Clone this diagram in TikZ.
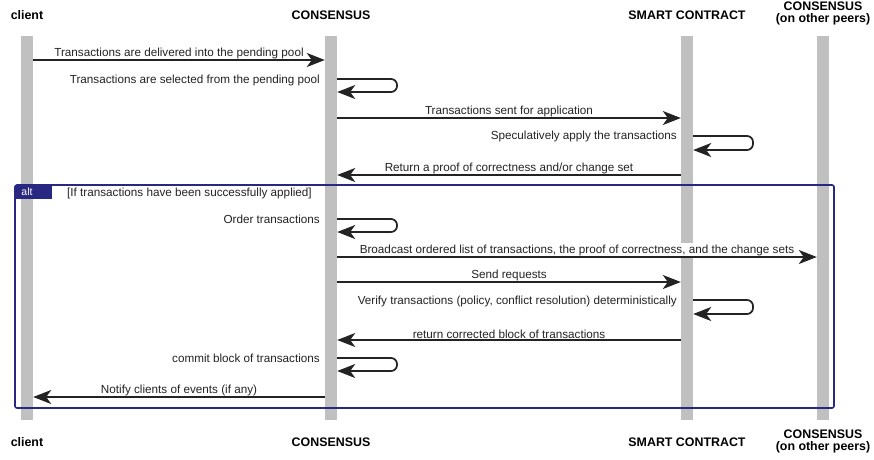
\documentclass[tikz,border=0pt]{standalone}
\usepackage{fontspec}
\setmainfont{Liberation Sans}
\usetikzlibrary{arrows.meta}
\definecolor{lifegray}{RGB}{192,192,192}
\definecolor{framenavy}{RGB}{40,40,130}
\definecolor{inkgray}{RGB}{35,35,35}
\begin{document}
\begin{tikzpicture}[x=1pt,y=-1pt,
  lifeline/.style={fill=lifegray,draw=none,minimum width=12pt,inner sep=0pt,anchor=north},
  header/.style={font=\fontsize{12.4}{13}\selectfont\bfseries,text=black,align=center,inner sep=0pt},
  msg/.style={draw=inkgray,line width=1.7pt,-{Stealth[length=18pt,width=14pt,inset=5pt]}},
  selfmsg/.style={msg,rounded corners=6pt},
  msglabel/.style={font=\fontsize{11.7}{12}\selectfont,text=inkgray,inner sep=0pt,anchor=south},
  selflabel/.style={font=\fontsize{11.7}{12}\selectfont,text=inkgray,inner sep=0pt,anchor=east},
  altframe/.style={draw=framenavy,line width=1.6pt,rounded corners=2pt}]
\useasboundingbox (0,0) rectangle (874,459);
\fill[white] (0,0) rectangle (874,459);

% lifelines
\node[lifeline,minimum height=384pt] (L1) at (27,36) {};
\node[lifeline,minimum height=384pt] (L2) at (331,36) {};
\node[lifeline,minimum height=207pt] (L3) at (687,36) {};
\node[lifeline,minimum height=163pt] (L3b) at (687,257) {};
\node[lifeline,minimum height=384pt] (L4) at (823,36) {};

% participant headers (top and bottom)
\node[header] (h1) at (27,15) {client};
\node[header] (h2) at (331,15) {CONSENSUS};
\node[header] (h3) at (687,15) {SMART CONTRACT};
\node[header] (h4) at (823,13) {CONSENSUS\\[-1pt](on other peers)};
\node[header] (f1) at (27,442) {client};
\node[header] (f2) at (331,442) {CONSENSUS};
\node[header] (f3) at (687,442) {SMART CONTRACT};
\node[header] (f4) at (823,441) {CONSENSUS\\[-1pt](on other peers)};

% messages before the alternative
\draw[msg] (L1.east |- 0,60) -- node[msglabel,above=0.5pt] {Transactions are delivered into the pending pool} (L2.west |- 0,60);
\draw[selfmsg] (L2.east |- 0,79) -- (397,79) -- (397,92) -- (L2.east |- 0,92);
\node[selflabel] (s1) at (320,80) {Transactions are selected from the pending pool};
\draw[msg] (L2.east |- 0,118) -- node[msglabel,above=0.5pt] {Transactions sent for application} (L3.west |- 0,118);
\draw[selfmsg] (L3.east |- 0,136) -- (753,136) -- (753,150) -- (L3.east |- 0,150);
\node[selflabel] (s2) at (677,136) {Speculatively apply the transactions};
\draw[msg] (L3.west |- 0,175) -- node[msglabel,above=0.5pt] {Return a proof of correctness and/or change set} (L2.east |- 0,175);

% alternative fragment
\draw[altframe] (15,185) rectangle (834,408);
\fill[framenavy] (15,185) -- (52,185) -- (52,199) -- (15,199) -- cycle;
\node[font=\fontsize{10.5}{11}\selectfont,text=white,inner sep=0pt] (alt) at (27,192) {alt};
\node[font=\fontsize{11.7}{12}\selectfont,text=inkgray,inner sep=0pt,anchor=west] (guard) at (67,193) {[If transactions have been successfully applied]};

% messages inside the alternative
\draw[selfmsg] (L2.east |- 0,219) -- (397,219) -- (397,232) -- (L2.east |- 0,232);
\node[selflabel] (s3) at (320,219) {Order transactions};
\draw[msg] (L2.east |- 0,257) -- node[msglabel,above=0.5pt] {Broadcast ordered list of transactions, the proof of correctness, and the change sets} (L4.west |- 0,257);
\draw[msg] (L2.east |- 0,282) -- node[msglabel,above=0.5pt] {Send requests} (L3b.west |- 0,282);
\draw[selfmsg] (L3b.east |- 0,300) -- (753,300) -- (753,314) -- (L3b.east |- 0,314);
\node[selflabel] (s4) at (677,301) {Verify transactions (policy, conflict resolution) deterministically};
\draw[msg] (L3b.west |- 0,340) -- node[msglabel,above=0.5pt] {return corrected block of transactions} (L2.east |- 0,340);
\draw[selfmsg] (L2.east |- 0,358) -- (397,358) -- (397,371) -- (L2.east |- 0,371);
\node[selflabel] (s5) at (320,358) {commit block of transactions};
\draw[msg] (L2.west |- 0,397) -- node[msglabel,above=0.5pt] {Notify clients of events (if any)} (L1.east |- 0,397);
\end{tikzpicture}
\end{document}
